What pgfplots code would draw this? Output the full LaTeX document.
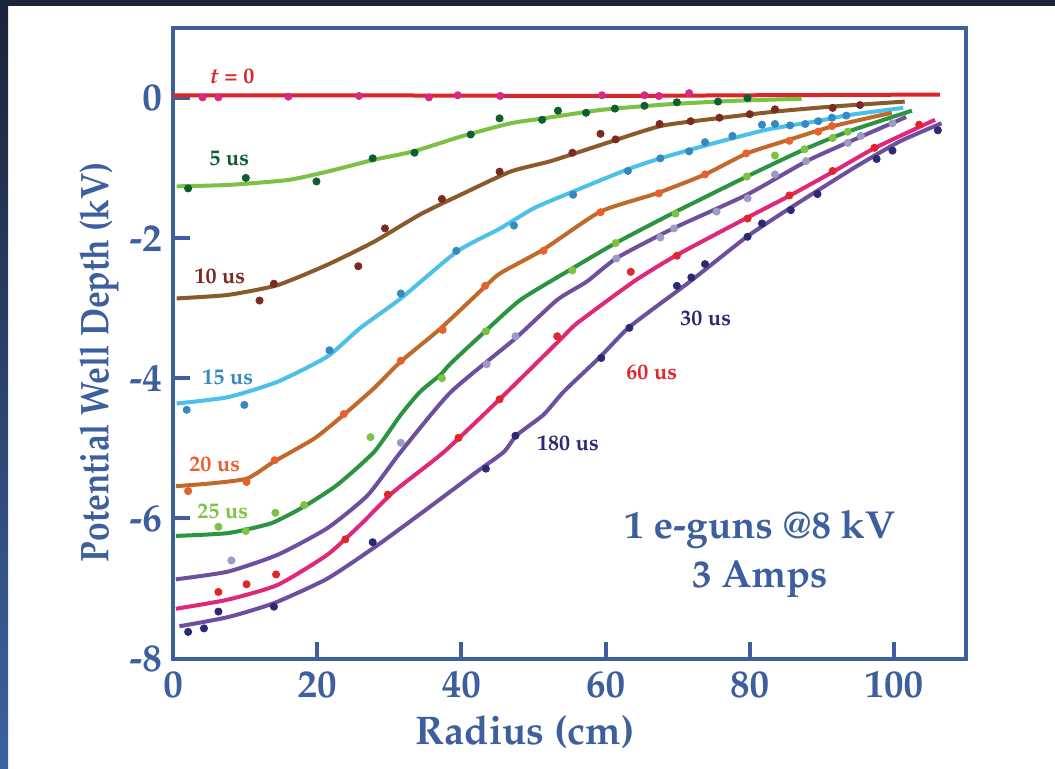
\documentclass[border=0pt]{standalone}
\usepackage[T1]{fontenc}
\usepackage{mathpazo}
\usepackage{graphicx}
\usepackage{pgfplots}
\pgfplotsset{compat=1.18}

\definecolor{frameblue}{HTML}{3E5F9E}
\definecolor{navy}{HTML}{1B2338}
\definecolor{stripblue}{HTML}{3D62A0}
% line colours
\definecolor{lzero}{HTML}{D8262A}
\definecolor{lfive}{HTML}{7CC144}
\definecolor{lten}{HTML}{8B5A2B}
\definecolor{lfifteen}{HTML}{4BC0E8}
\definecolor{ltwenty}{HTML}{C2692A}
\definecolor{ltwentyfive}{HTML}{2A9440}
\definecolor{lpurple}{HTML}{6E4F9E}
\definecolor{lsixty}{HTML}{E0287A}
% point colours
\definecolor{pzero}{HTML}{D62A84}
\definecolor{pfive}{HTML}{0D5E30}
\definecolor{pten}{HTML}{7B2A22}
\definecolor{pfifteen}{HTML}{3389C0}
\definecolor{ptwenty}{HTML}{E8612C}
\definecolor{ptwentyfive}{HTML}{7DC243}
\definecolor{pthirty}{HTML}{9B9BC6}
\definecolor{psixty}{HTML}{E0262A}
\definecolor{peighty}{HTML}{2B2A72}

\pgfplotsset{
  fit/.style={no marks, smooth, tension=0.35, line width=2pt},
  dots/.style={only marks, mark=*, mark size=1.8pt},
}

\begin{document}
\begin{tikzpicture}
% page background
\fill[white] (0,0) rectangle (527.5pt,384pt);
\shade[top color=navy, bottom color=stripblue] (0,0) rectangle (4pt,384pt);
\fill[navy] (0,381pt) rectangle (527.5pt,384pt);

\begin{axis}[
  at={(86.5pt,54.75pt)}, anchor=south west, scale only axis,
  width=396.5pt, height=315.25pt,
  xmin=0, xmax=110, ymin=-8, ymax=1,
  xtick={0,20,...,100}, ytick={-8,-6,...,0},
  xtick pos=bottom, ytick pos=left,
  tick align=inside, major tick length=8.5pt,
  tick style={line width=2pt, frameblue},
  axis line style={line width=2pt, frameblue},
  /pgf/number format/assume math mode=true,
  ticklabel style={font=\fontsize{19.5}{20}\selectfont\bfseries, text=frameblue},
  xticklabel style={yshift=-3pt},
  yticklabel style={xshift=-2pt},
  xlabel={Radius (cm)},
  ylabel={\scalebox{0.84}[1]{Potential Well Depth (kV)}},
  every axis x label/.style={at={(rel axis cs:0.444,0)}, yshift=-36.75pt, anchor=center,
    font=\fontsize{20}{24}\selectfont\bfseries, text=frameblue},
  every axis y label/.style={at={(rel axis cs:0,0.47)}, xshift=-37pt, rotate=90, anchor=center,
    font=\fontsize{20}{24}\selectfont\bfseries, text=frameblue},
  clip=false,
]

% t = 0
\addplot[fit, lzero] table {
x y
0 0.04
20 0.04
40 0.035
60 0.03
80 0.04
106.4 0.05
};
\addplot[dots, pzero] table {
x y
4.1 0.01
6.3 0.01
16.0 0.02
25.8 0.03
35.5 0.01
39.5 0.04
45.4 0.03
59.5 0.04
65.4 0.04
67.4 0.03
71.6 0.07
};

% 5 us
\addplot[fit, lfive] table {
x y
0.5 -1.26
7.6 -1.24
15.9 -1.17
21.4 -1.05
27.9 -0.88
33.4 -0.76
39.9 -0.55
46.8 -0.36
51.4 -0.29
59.3 -0.17
68.5 -0.09
77.7 -0.04
87.2 -0.01
};
\addplot[dots, pfive] table {
x y
2.1 -1.29
10.1 -1.14
19.9 -1.19
27.7 -0.86
33.5 -0.78
41.3 -0.52
45.3 -0.29
51.2 -0.31
53.4 -0.18
57.3 -0.21
61.3 -0.15
65.4 -0.11
69.9 -0.06
75.6 -0.05
79.7 0.0
};

% 10 us
\addplot[fit, lten] table {
x y
0.5 -2.86
7.6 -2.81
14.5 -2.67
21.4 -2.38
27.9 -2.05
34.3 -1.66
39.9 -1.38
46.8 -1.05
52.4 -0.90
59.3 -0.67
67.6 -0.40
75.4 -0.29
83.8 -0.19
91.6 -0.12
101.5 -0.05
};
\addplot[dots, pten] table {
x y
12.0 -2.89
14.0 -2.65
25.7 -2.40
29.4 -1.86
37.3 -1.44
45.3 -1.05
55.4 -0.78
59.3 -0.51
61.4 -0.59
67.5 -0.37
71.8 -0.33
75.8 -0.28
80.0 -0.23
83.5 -0.16
91.5 -0.14
95.3 -0.10
};

% 15 us
\addplot[fit, lfifteen] table {
x y
0.5 -4.36
7.6 -4.27
14.5 -4.05
21.4 -3.69
26.0 -3.28
31.6 -2.86
39.4 -2.19
45.4 -1.86
50.1 -1.57
55.6 -1.33
63.0 -1.02
67.6 -0.86
74.1 -0.67
82.4 -0.45
89.3 -0.33
93.9 -0.24
101.3 -0.14
};
\addplot[dots, pfifteen] table {
x y
1.9 -4.45
9.9 -4.38
21.7 -3.60
31.6 -2.79
39.3 -2.18
47.3 -1.82
55.5 -1.38
63.1 -1.04
67.6 -0.86
71.6 -0.76
73.8 -0.63
77.6 -0.54
81.7 -0.38
83.5 -0.37
85.6 -0.39
87.7 -0.37
89.5 -0.33
91.4 -0.28
93.4 -0.25
};

% 20 us
\addplot[fit, ltwenty] table {
x y
0.4 -5.54
5.3 -5.50
10.3 -5.43
14.0 -5.19
19.6 -4.86
23.7 -4.52
27.9 -4.14
31.6 -3.76
37.1 -3.29
43.3 -2.69
45.4 -2.50
51.4 -2.16
59.3 -1.62
67.1 -1.36
73.8 -1.09
79.6 -0.79
85.6 -0.59
91.6 -0.40
99.7 -0.21
};
\addplot[dots, ptwenty] table {
x y
2.1 -5.61
10.2 -5.48
14.1 -5.17
23.7 -4.51
31.6 -3.75
37.4 -3.31
43.3 -2.68
51.4 -2.18
59.3 -1.63
67.4 -1.36
73.8 -1.09
79.5 -0.79
85.5 -0.61
89.5 -0.48
91.4 -0.40
};

% 25 us
\addplot[fit, ltwentyfive] table {
x y
0.4 -6.25
7.6 -6.21
13.6 -6.07
18.2 -5.83
22.8 -5.52
27.9 -5.05
31.6 -4.52
34.3 -4.19
37.1 -3.95
38.5 -3.79
43.3 -3.33
48.2 -2.88
55.1 -2.45
61.4 -2.07
69.4 -1.64
79.6 -1.12
87.4 -0.74
93.6 -0.48
102.5 -0.18
};
\addplot[dots, ptwentyfive] table {
x y
6.3 -6.12
10.1 -6.18
14.2 -5.92
18.2 -5.81
27.4 -4.84
37.3 -4.00
43.4 -3.33
55.4 -2.46
61.4 -2.07
69.7 -1.65
79.6 -1.12
83.5 -0.82
87.6 -0.73
91.5 -0.57
93.6 -0.48
};

% 30 us
\addplot[fit, lpurple] table {
x y
0.4 -6.87
7.6 -6.76
14.5 -6.52
21.4 -6.14
27.0 -5.67
31.6 -5.05
38.5 -4.20
47.5 -3.43
53.3 -2.88
57.4 -2.62
61.6 -2.28
69.4 -1.86
79.6 -1.38
87.9 -0.90
93.9 -0.62
101.7 -0.27
};
\addplot[dots, pthirty] table {
x y
8.1 -6.60
31.6 -4.92
43.5 -3.80
47.5 -3.40
61.5 -2.29
67.6 -1.99
69.5 -1.86
75.4 -1.62
79.7 -1.43
83.5 -1.09
87.8 -0.90
93.6 -0.64
95.4 -0.54
99.8 -0.36
};

% 60 us
\addplot[fit, lsixty] table {
x y
0.4 -7.29
7.6 -7.16
14.5 -6.95
21.4 -6.52
26.0 -6.09
30.6 -5.62
37.6 -5.05
45.4 -4.29
53.7 -3.45
56.1 -3.21
63.9 -2.62
69.9 -2.24
79.6 -1.71
85.6 -1.39
91.6 -1.05
97.4 -0.71
105.7 -0.31
};
\addplot[dots, psixty] table {
x y
6.3 -7.05
10.2 -6.94
14.3 -6.80
23.9 -6.30
29.8 -5.66
39.6 -4.85
45.3 -4.30
53.3 -3.40
63.5 -2.48
69.9 -2.25
79.7 -1.72
85.5 -1.39
91.5 -1.04
97.3 -0.71
103.5 -0.38
};

% 180 us
\addplot[fit, lpurple] table {
x y
0.9 -7.54
7.6 -7.41
14.0 -7.21
21.4 -6.86
28.4 -6.38
35.3 -5.86
42.2 -5.33
45.9 -5.05
47.7 -4.81
51.4 -4.52
54.2 -4.19
59.3 -3.69
63.4 -3.26
71.7 -2.62
79.6 -1.98
85.6 -1.57
94.4 -1.00
100.8 -0.62
106.6 -0.36
};
\addplot[dots, peighty] table {
x y
2.1 -7.62
4.3 -7.57
6.3 -7.33
14.0 -7.26
27.7 -6.34
43.4 -5.29
47.5 -4.82
59.4 -3.71
63.3 -3.28
69.9 -2.68
71.9 -2.56
73.8 -2.37
79.7 -1.98
81.7 -1.79
85.7 -1.60
89.4 -1.37
97.6 -0.87
99.8 -0.75
106.1 -0.46
};

% curve labels
\begin{scope}[every node/.style={font=\fontsize{11}{13}\selectfont\bfseries}]
\node[lzero] at (axis cs:8.2,0.31) {\textit{t} = 0};
\node[pfive] at (axis cs:7.8,-0.86) {5 us};
\node[pten] at (axis cs:6.5,-2.55) {10 us};
\node[pfifteen] at (axis cs:7.6,-3.99) {15 us};
\node[ptwenty] at (axis cs:5.8,-5.22) {20 us};
\node[ptwentyfive] at (axis cs:6.9,-5.90) {25 us};
\node[peighty] at (axis cs:73.9,-3.15) {30 us};
\node[psixty] at (axis cs:66.4,-3.92) {60 us};
\node[peighty] at (axis cs:54.8,-4.93) {180 us};
\end{scope}
\node[frameblue, align=center, font=\fontsize{19.5}{24.5}\selectfont\bfseries]
  at (axis cs:81.4,-6.5) {1 e-guns @8 kV\\3 Amps};
\end{axis}
\end{tikzpicture}
\end{document}
